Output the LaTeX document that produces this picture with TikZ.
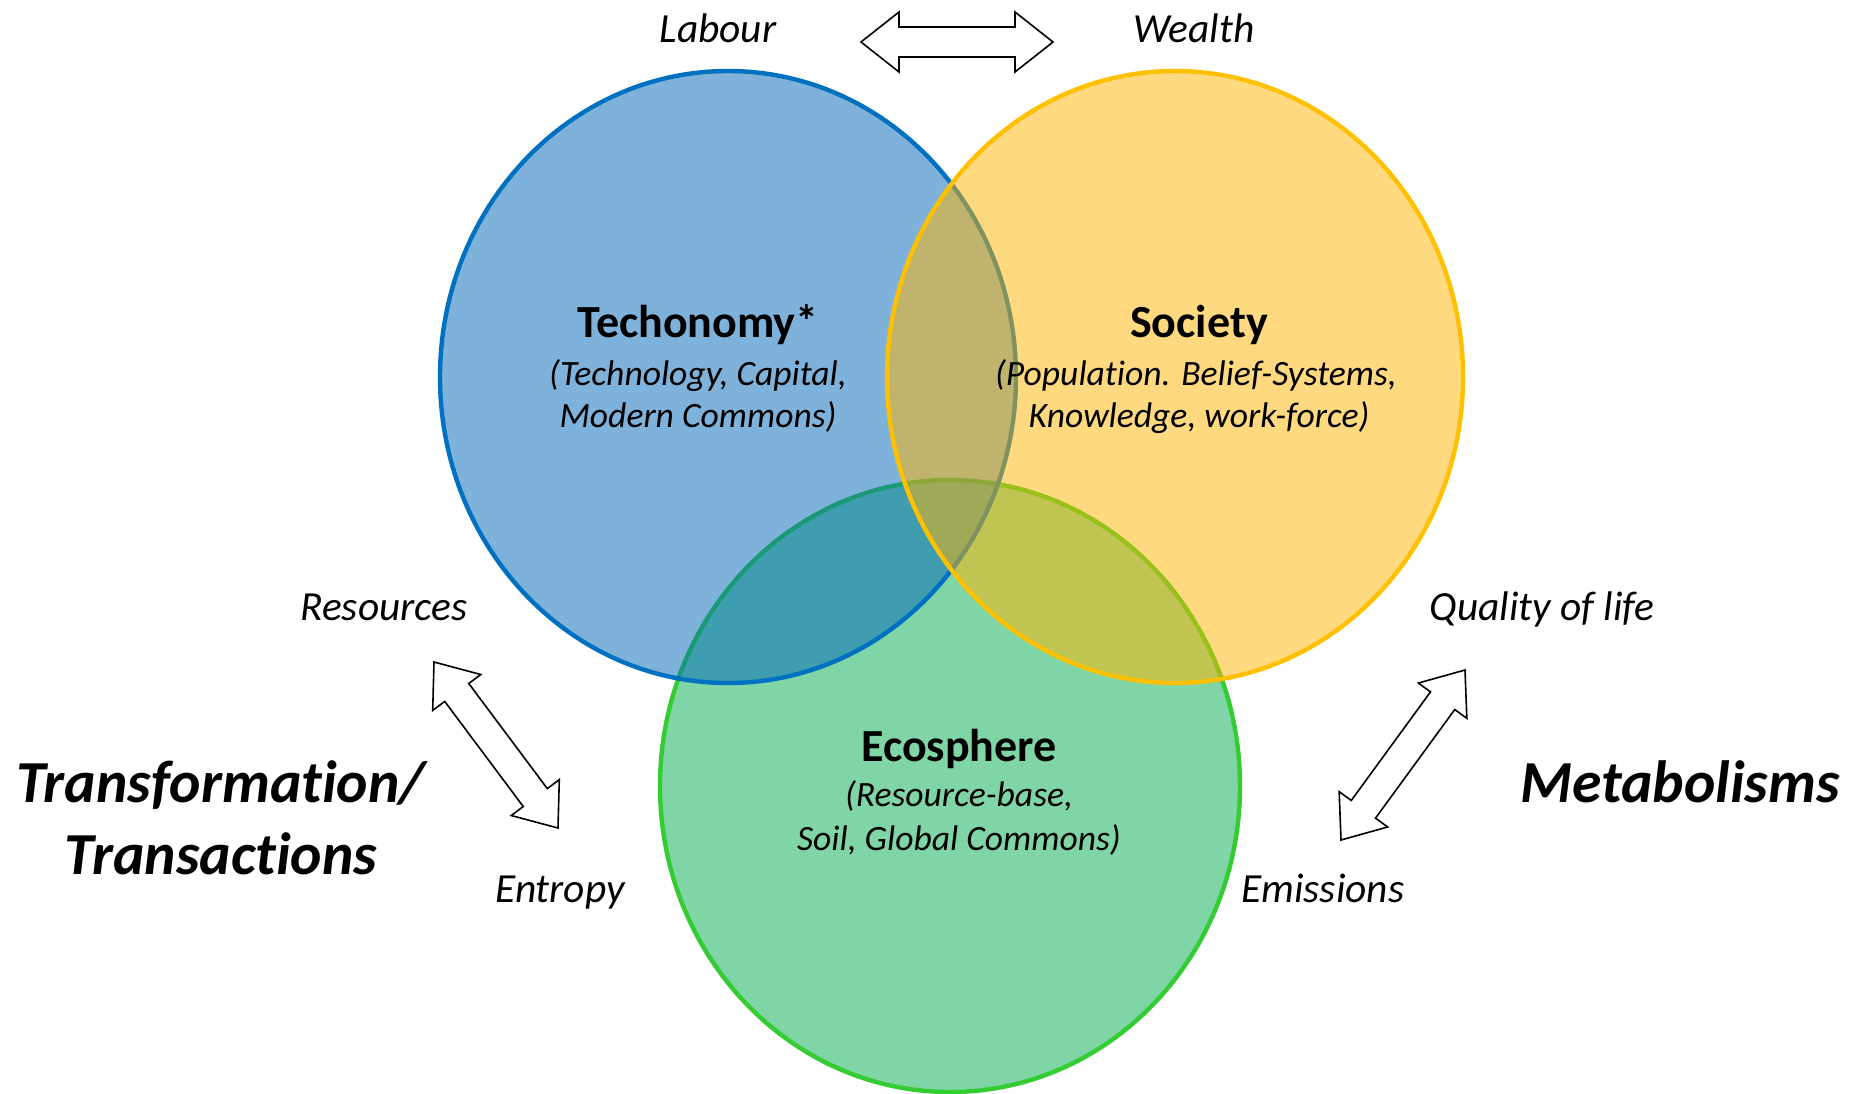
\documentclass[tikz,border=0pt]{standalone}
\usepackage{fontspec}
\setmainfont[Ligatures=NoCommon,RawFeature={-liga;-clig;-calt;-dlig}]{Carlito}
\usetikzlibrary{calc}
\definecolor{bluefill}{RGB}{0,103,185}
\definecolor{blueline}{RGB}{0,112,192}
\definecolor{yelfill}{RGB}{255,181,0}
\definecolor{yelline}{RGB}{255,192,0}
\definecolor{grnfill}{RGB}{0,173,77}
\definecolor{grnline}{RGB}{51,204,51}
\newcommand\dblblockarrow[2]{%
  \draw[blockarr] (#1)
    -- ($(#1)!19pt!(#2)!15pt!90:(#2)$)
    -- ($(#1)!19pt!(#2)!7.5pt!90:(#2)$)
    -- ($(#2)!19pt!(#1)!7.5pt!-90:(#1)$)
    -- ($(#2)!19pt!(#1)!15pt!-90:(#1)$)
    -- (#2)
    -- ($(#2)!19pt!(#1)!15pt!90:(#1)$)
    -- ($(#2)!19pt!(#1)!7.5pt!90:(#1)$)
    -- ($(#1)!19pt!(#2)!7.5pt!-90:(#2)$)
    -- ($(#1)!19pt!(#2)!15pt!-90:(#2)$)
    -- cycle;}
\begin{document}
\begin{tikzpicture}[x=0.5pt,y=-0.5pt,
  venn/.style={line width=2.2pt, fill opacity=0.5},
  blockarr/.style={draw=black, fill=white, line width=0.8pt, line join=miter},
  ttl/.style={font=\fontsize{23}{28}\selectfont\bfseries, inner sep=0pt, anchor=base},
  sub/.style={font=\fontsize{17.8}{21}\selectfont\itshape, inner sep=0pt, anchor=base},
  lbl/.style={font=\fontsize{20.7}{25}\selectfont\itshape, inner sep=0pt, anchor=base},
  big/.style={font=\fontsize{29.8}{36}\selectfont\bfseries\itshape, inner sep=0pt, anchor=base}]
\fill[white] (0,0) rectangle (1852,1093);
\useasboundingbox (0,0) rectangle (1852,1093);

% Venn ellipses (order: green, blue, yellow)
\draw[venn, draw=grnline, fill=grnfill] (950,786) ellipse [x radius=145pt, y radius=153pt];
\draw[venn, draw=blueline, fill=bluefill] (728,377) ellipse [x radius=144pt, y radius=153pt];
\draw[venn, draw=yelline, fill=yelfill] (1175,377) ellipse [x radius=144pt, y radius=153pt];

% circle texts
\node[ttl] (techT) at (698,337) {Techonomy*};
\node[sub] (techS1) at (698,385) {(Technology, Capital,};
\node[sub] (techS2) at (698,427) {Modern Commons)};
\node[ttl] (socT) at (1199,337) {Society};
\node[sub] (socS1) at (1196,385) {(Populat\kern0pt ion. Belief-Systems,};
\node[sub] (socS2) at (1199,427) {Knowledge, work-force)};
\node[ttl] (ecoT) at (959,761) {Ecosphere};
\node[sub] (ecoS1) at (959,806) {(Resource-base,};
\node[sub] (ecoS2) at (959,850) {Soil, Global Commons)};

% outer labels
\node[lbl] (labour) at (718,42) {Labour};
\node[lbl] (wealth) at (1194,42) {Wealth};
\node[lbl] (resources) at (384,620) {Resources};
\node[lbl] (quality) at (1542,620) {Quality of life};
\node[lbl] (entropy) at (560,902) {Entropy};
\node[lbl] (emissions) at (1323,902) {Emissions};
\node[big] (transf) at (221,802) {Transformat\kern0pt ion/};
\node[big] (transa) at (221,874) {Transact\kern0pt ions};
\node[big] (metab) at (1680,802) {Metabolisms};

% block double arrows
\coordinate (topL) at (861,42);
\coordinate (topR) at (1053,42);
\coordinate (leftU) at (434,662);
\coordinate (leftD) at (558,828);
\coordinate (rightU) at (1465,670);
\coordinate (rightD) at (1341,840);
\dblblockarrow{topL}{topR}
\dblblockarrow{leftU}{leftD}
\dblblockarrow{rightU}{rightD}
\end{tikzpicture}
\end{document}
